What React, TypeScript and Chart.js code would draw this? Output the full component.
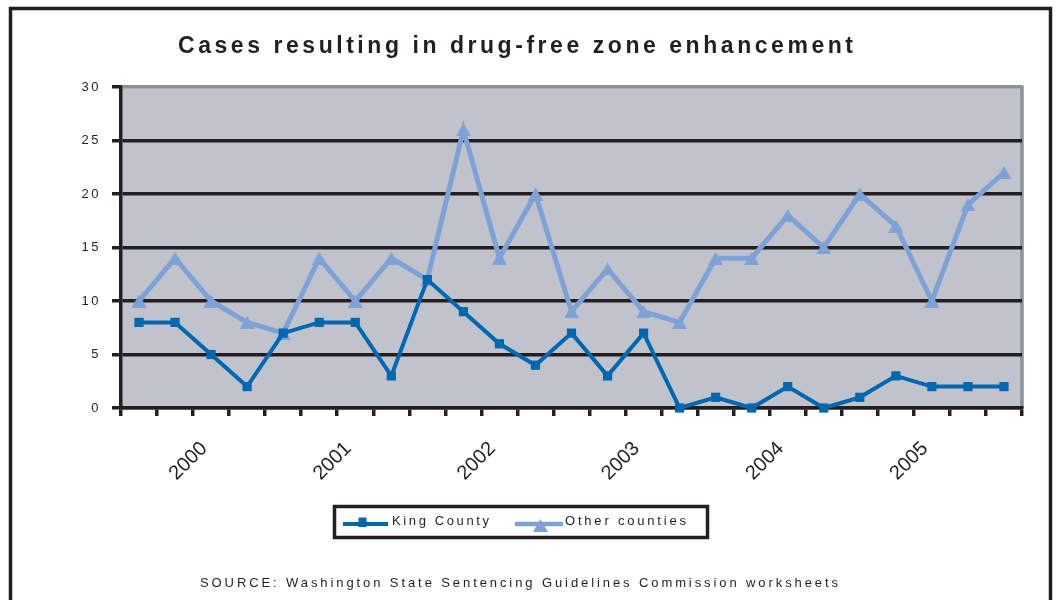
import React, { useEffect, useRef } from 'react';
import { Chart, registerables } from 'chart.js';

Chart.register(...registerables);

// Quarterly categories; only one quarter per year carries the year label.
const quarterLabels = [
  '', '', '2000', '', '', '', '2001', '', '', '', '2002', '', '',
  '', '2003', '', '', '', '2004', '', '', '', '2005', '', '',
];
const kingCounty = [8, 8, 5, 2, 7, 8, 8, 3, 12, 9, 6, 4, 7, 3, 7, 0, 1, 0, 2, 0, 1, 3, 2, 2, 2];
const otherCounties = [10, 14, 10, 8, 7, 14, 10, 14, 12, 26, 14, 20, 9, 13, 9, 8, 14, 14, 18, 15, 20, 17, 10, 19, 22];
const seriesNames = ['King County', 'Other counties'];
const yMin = 0;
const yMax = 30;
const yStep = 5;

const titleText = 'Cases resulting in drug-free zone enhancement';
const sourceText = 'SOURCE: Washington State Sentencing Guidelines Commission worksheets';

const INK = '#231F20';
const PLOT_BG = '#C0C3CC';
const PLOT_EDGE = '#8A9199';
const KING_COLOR = '#0067B1';
const OTHER_COLOR = '#7FA2D6';
const FONT = '"Liberation Sans", Arial, Helvetica, sans-serif';

const W = 1057;
const H = 600;

// Triangle marker whose bounding box is centred on the data point.
function makeTriangle(color: string, w: number, h: number): HTMLCanvasElement {
  const c = document.createElement('canvas');
  c.width = w;
  c.height = h;
  const g = c.getContext('2d')!;
  g.fillStyle = color;
  g.beginPath();
  g.moveTo(w / 2, 0);
  g.lineTo(w, h);
  g.lineTo(0, h);
  g.closePath();
  g.fill();
  return c;
}

// Draws text between two x positions by widening the letter spacing.
function spacedText(ctx: CanvasRenderingContext2D, text: string, left: number, baseline: number, width: number) {
  (ctx as any).letterSpacing = '0px';
  const natural = ctx.measureText(text).width;
  const gaps = Array.from(text).length - 1;
  (ctx as any).letterSpacing = `${Math.max(0, (width - natural) / gaps)}px`;
  ctx.textAlign = 'left';
  ctx.textBaseline = 'alphabetic';
  ctx.fillText(text, left, baseline);
  (ctx as any).letterSpacing = '0px';
}

function makeDecorations(triangle: HTMLCanvasElement) {
  return {
    id: 'decorations',
    beforeDraw(chart: any) {
      const { ctx, chartArea } = chart;
      ctx.save();
      ctx.fillStyle = '#FFFFFF';
      ctx.fillRect(0, 0, W, H);
      ctx.fillStyle = PLOT_BG;
      ctx.fillRect(chartArea.left, chartArea.top, chartArea.right - chartArea.left, chartArea.bottom - chartArea.top);
      // right edge of the plot
      ctx.strokeStyle = PLOT_EDGE;
      ctx.lineWidth = 3.5;
      ctx.beginPath();
      ctx.moveTo(chartArea.right, chartArea.top - 1.5);
      ctx.lineTo(chartArea.right, chartArea.bottom);
      ctx.stroke();
      // outer frame
      ctx.strokeStyle = INK;
      ctx.lineWidth = 3.5;
      ctx.strokeRect(10.5, 8.5, 1040, 700);
      ctx.restore();

      // y tick labels are letter-spaced
      const ys = chart.scales.y;
      if (ys && !ys._spacedLabels) {
        const base = ys.drawLabels;
        ys.drawLabels = function (area: any) {
          const c = this.ctx;
          c.save();
          c.letterSpacing = '2.5px';
          base.call(this, area);
          c.restore();
        };
        ys._spacedLabels = true;
      }
    },
    afterDraw(chart: any) {
      const { ctx } = chart;
      ctx.save();
      ctx.fillStyle = INK;

      // title
      ctx.font = `bold 23px ${FONT}`;
      spacedText(ctx, titleText, 178, 53, 675);

      // legend box
      ctx.fillStyle = '#FFFFFF';
      ctx.fillRect(334.5, 506.5, 373, 31);
      ctx.strokeStyle = INK;
      ctx.lineWidth = 3.5;
      ctx.strokeRect(334.5, 506.5, 373, 31);

      // King County sample
      ctx.strokeStyle = KING_COLOR;
      ctx.lineWidth = 4;
      ctx.beginPath();
      ctx.moveTo(343, 524);
      ctx.lineTo(388, 524);
      ctx.stroke();
      ctx.fillStyle = KING_COLOR;
      ctx.fillRect(358.5, 517.5, 8, 9.5);

      // Other counties sample
      ctx.strokeStyle = OTHER_COLOR;
      ctx.lineWidth = 4.5;
      ctx.beginPath();
      ctx.moveTo(515, 524);
      ctx.lineTo(563, 524);
      ctx.stroke();
      ctx.drawImage(triangle, 540.5 - triangle.width / 2, 519);

      ctx.fillStyle = INK;
      ctx.font = `13px ${FONT}`;
      spacedText(ctx, seriesNames[0], 392, 525, 97);
      spacedText(ctx, seriesNames[1], 565, 525, 121);

      // source line
      ctx.font = `13px ${FONT}`;
      spacedText(ctx, sourceText, 200, 587, 638);
      ctx.restore();
    },
  };
}

export default function App() {
  const canvasRef = useRef<HTMLCanvasElement | null>(null);

  useEffect(() => {
    const canvas = canvasRef.current;
    if (!canvas) return;
    const triangle = makeTriangle(OTHER_COLOR, 15, 13);
    const chart = new Chart(canvas, {
      type: 'line',
      data: {
        labels: quarterLabels,
        datasets: [
          {
            label: seriesNames[0],
            data: kingCounty,
            borderColor: KING_COLOR,
            backgroundColor: KING_COLOR,
            borderWidth: 4,
            pointStyle: 'rect',
            pointRadius: 6.5,
            pointBorderWidth: 0,
            tension: 0,
            clip: false as any,
          },
          {
            label: seriesNames[1],
            data: otherCounties,
            borderColor: OTHER_COLOR,
            backgroundColor: OTHER_COLOR,
            borderWidth: 5,
            pointStyle: triangle as any,
            pointRadius: 7,
            pointBorderWidth: 0,
            tension: 0,
            clip: false as any,
          },
        ],
      },
      options: {
        animation: false,
        responsive: false,
        devicePixelRatio: 1,
        layout: { padding: { top: 87, right: 35, bottom: 0, left: 0 } },
        plugins: {
          legend: { display: false },
          title: { display: false },
          tooltip: { enabled: false },
        },
        scales: {
          x: {
            type: 'category',
            offset: true,
            afterFit: (scale: any) => {
              scale.height = 192;
            },
            grid: {
              offset: true,
              drawOnChartArea: false,
              drawTicks: true,
              tickLength: 8,
              tickWidth: 3.5,
              tickColor: INK,
              color: INK,
              lineWidth: 3.5,
            },
            border: { display: true, color: INK, width: 3.5 },
            ticks: {
              autoSkip: false,
              minRotation: 45,
              maxRotation: 45,
              padding: 21,
              labelOffset: -7,
              color: INK,
              font: { family: FONT, size: 20 },
            },
          },
          y: {
            min: yMin,
            max: yMax,
            afterFit: (scale: any) => {
              scale.width = 121;
            },
            grid: {
              drawTicks: true,
              tickLength: 9,
              tickColor: INK,
              lineWidth: 3.5,
              color: (c: any) => (c.tick && c.tick.value === yMax ? PLOT_EDGE : INK),
            },
            border: { display: true, color: INK, width: 3.5 },
            ticks: {
              stepSize: yStep,
              padding: 11,
              color: INK,
              font: { family: FONT, size: 13 },
            },
          },
        },
      },
      plugins: [makeDecorations(triangle)],
    });
    return () => chart.destroy();
  }, []);

  return (
    <canvas
      ref={canvasRef}
      width={W}
      height={H}
      style={{ position: 'absolute', left: 0, top: 0, width: W, height: H, display: 'block' }}
    />
  );
}
